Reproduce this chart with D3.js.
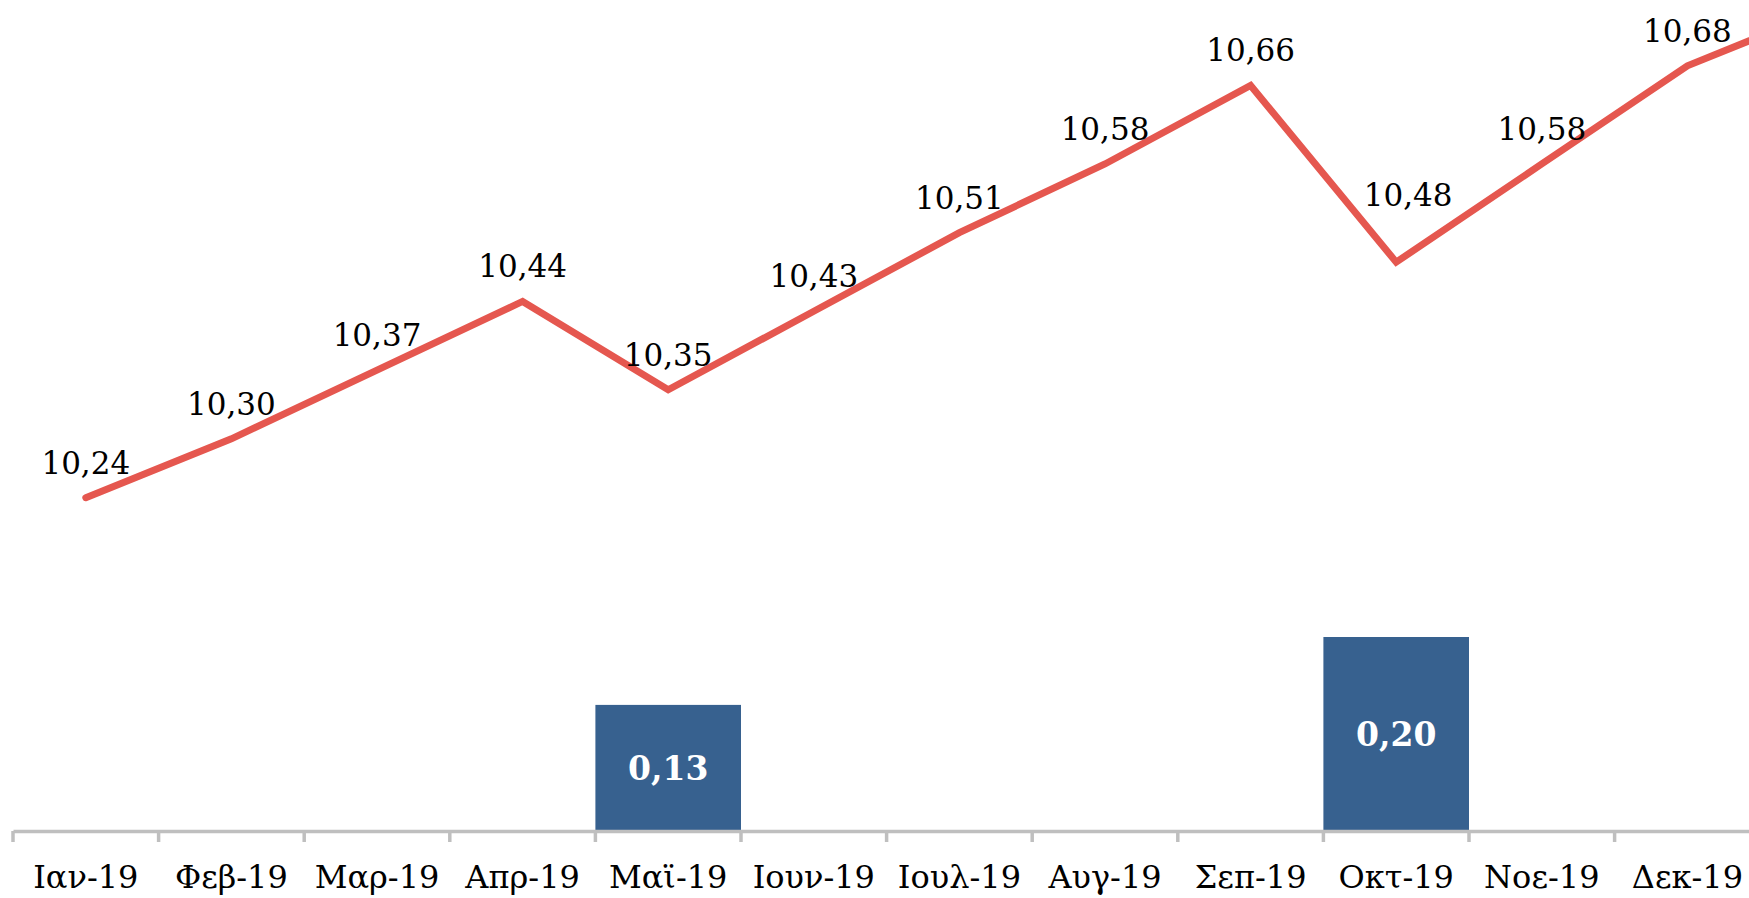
<!DOCTYPE html>
<html>
<head>
<meta charset="utf-8">
<script src="https://cdn.jsdelivr.net/npm/d3@7"></script>
<style>
  body { margin: 0; background: #fff; overflow: hidden; }
  text { font-family: "DejaVu Serif", "Liberation Serif", serif; }
</style>
</head>
<body>
<div id="chart"></div>
<script>
  // months (the last one falls just outside the picture)
  let months = ['Ιαν-19', 'Φεβ-19', 'Μαρ-19', 'Απρ-19', 'Μαϊ-19', 'Ιουν-19', 'Ιουλ-19',
                'Αυγ-19', 'Σεπ-19', 'Οκτ-19', 'Νοε-19', 'Δεκ-19', 'Ιαν-20'];
  let lineValues = [10.24, 10.30, 10.37, 10.44, 10.35, 10.43, 10.51, 10.58, 10.66, 10.48, 10.58, 10.68, 10.74];
  let barValues = [null, null, null, null, 0.13, null, null, null, null, 0.20, null, null, null];

  let width = 1749;
  let height = 898;

  let fmt = function(v) {
    return v.toFixed(2).replace('.', ',');
  };

  let svg = d3.select('#chart').append('svg')
      .attr('width', width)
      .attr('height', height);

  // set the ranges
  let x = d3.scaleBand().domain(months).range([13, 13 + 145.6 * months.length]).padding(0);
  let yLine = d3.scaleLinear().domain([10.2, 10.8]).range([537, -52]);
  let yBar = d3.scaleLinear().domain([0, 0.2]).range([831, 637]);

  // bars
  let barData = months.map(function(m, i) { return {m: m, v: barValues[i]}; })
    .filter(function(d) { return d.v != null; });

  svg.selectAll('rect.bar')
      .data(barData)
    .enter().append('rect')
      .attr('class', 'bar')
      .attr('x', function(d) { return x(d.m); })
      .attr('width', x.bandwidth())
      .attr('y', function(d) { return yBar(d.v); })
      .attr('height', function(d) { return yBar(0) - yBar(d.v); })
      .style('fill', '#37618f');

  svg.selectAll('text.barLabel')
      .data(barData)
    .enter().append('text')
      .attr('class', 'barLabel')
      .attr('x', function(d) { return x(d.m) + x.bandwidth() / 2; })
      .attr('y', function(d) { return (yBar(d.v) + yBar(0)) / 2; })
      .attr('dy', '0.35em')
      .attr('text-anchor', 'middle')
      .style('font-size', '33px')
      .style('font-weight', 'bold')
      .style('fill', '#fff')
      .text(function(d) { return fmt(d.v); });

  // x axis
  let axis = svg.append('g')
      .attr('transform', 'translate(0,' + yBar(0) + ')')
      .call(d3.axisBottom(x).tickSize(0).tickPadding(34));
  axis.select('.domain').attr('stroke', '#bfbfbf').attr('stroke-width', 3.5);
  axis.selectAll('.tick text')
      .style('font-size', '32px')
      .style('fill', '#000');

  svg.selectAll('line.sep')
      .data(months)
    .enter().append('line')
      .attr('class', 'sep')
      .attr('x1', function(d) { return x(d); })
      .attr('x2', function(d) { return x(d); })
      .attr('y1', yBar(0))
      .attr('y2', yBar(0) + 11)
      .style('stroke', '#bfbfbf')
      .style('stroke-width', 3.5);

  // line
  let lineData = months.map(function(m, i) { return {m: m, v: lineValues[i]}; });
  let valueline = d3.line()
    .x(function(d) { return x(d.m) + x.bandwidth() / 2; })
    .y(function(d) { return yLine(d.v); });

  svg.append('path')
      .data([lineData])
      .attr('d', valueline)
      .style('fill', 'none')
      .style('stroke', '#e5574f')
      .style('stroke-width', 7)
      .style('stroke-linecap', 'round')
      .style('stroke-linejoin', 'miter');

  // the Oct label sits higher up, clear of the dip
  let nudge = function(d) {
    return d.m == 'Οκτ-19' ? [12, -32] : [0, 0];
  };

  svg.selectAll('text.lineLabel')
      .data(lineData)
    .enter().append('text')
      .attr('class', 'lineLabel')
      .attr('x', function(d) { return x(d.m) + x.bandwidth() / 2 + nudge(d)[0]; })
      .attr('y', function(d) { return yLine(d.v) - 24 + nudge(d)[1]; })
      .attr('text-anchor', 'middle')
      .style('font-size', '31px')
      .style('fill', '#000')
      .text(function(d) { return fmt(d.v); });
</script>
</body>
</html>
